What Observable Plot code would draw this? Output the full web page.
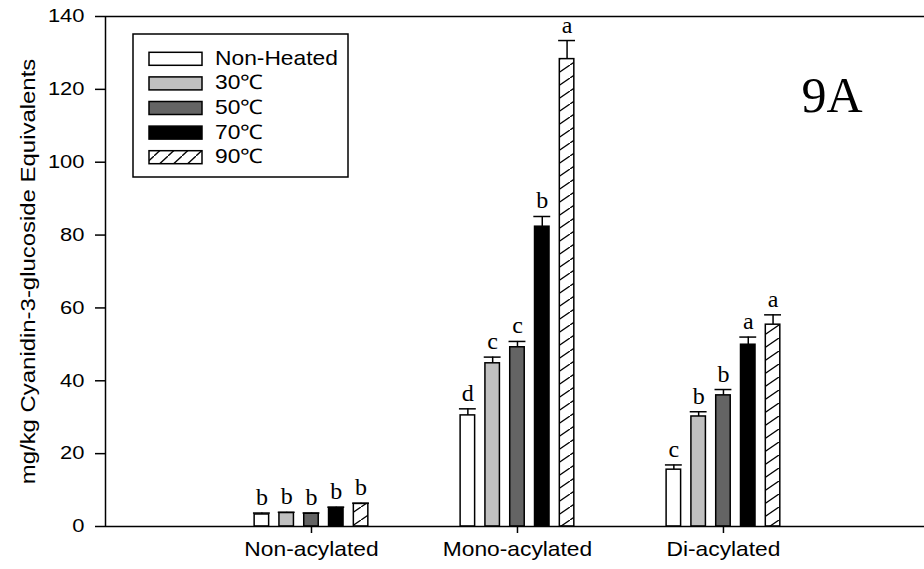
<!DOCTYPE html>
<html>
<head>
<meta charset="utf-8">
<script src="https://cdn.jsdelivr.net/npm/d3@7"></script>
<script src="https://cdn.jsdelivr.net/npm/@observablehq/plot@0.6"></script>
<style>
  body { margin: 0; background: #fff; }
</style>
</head>
<body>
<div id="chart"></div>
<script>
// ---------- data ----------
const categories = ["Non-acylated", "Mono-acylated", "Di-acylated"];
const treatments = ["Non-Heated", "30℃", "50℃", "70℃", "90℃"];
const yTicks = [0, 20, 40, 60, 80, 100, 120, 140];
const yLabel = "mg/kg Cyanidin-3-glucoside Equivalents";
const panelLabel = "9A";

// means per treatment, in category order
const valNH = [3.3, 30.5, 15.6];
const val30 = [3.7, 44.8, 30.2];
const val50 = [3.5, 49.2, 36.0];
const val70 = [5.1, 82.3, 49.9];
const val90 = [6.2, 128.3, 55.4];

// standard errors
const errNH = [0.4, 1.8, 1.3];
const err30 = [0.2, 1.7, 1.3];
const err50 = [0.2, 1.6, 1.6];
const err70 = [0.2, 2.8, 2.1];
const err90 = [0.2, 5.1, 2.7];

// significance letters
const letNH = ["b", "d", "c"];
const let30 = ["b", "c", "b"];
const let50 = ["b", "c", "b"];
const let70 = ["b", "b", "a"];
const let90 = ["b", "a", "a"];

// ---------- build table ----------
const vals = [valNH, val30, val50, val70, val90];
const errs = [errNH, err30, err50, err70, err90];
const lets = [letNH, let30, let50, let70, let90];
const fills = ["white", "#c0c0c0", "#646464", "black", "url(#hatch90)"];
const legendFills = ["white", "#c0c0c0", "#646464", "black", "url(#hatchLeg)"];

const STEP = 0.1204;   // bar spacing in category units
const HALF = 0.0352;   // half bar width
const CAP = 0.041;     // half cap width

const rows = [];
categories.forEach((c, g) => {
  treatments.forEach((t, s) => {
    rows.push({
      cat: c, s, value: vals[s][g], err: errs[s][g], letter: lets[s][g],
      center: g + 1 + (s - 2) * STEP
    });
  });
});

// ---------- legend + pattern defs as a render mark ----------
function legendMark(index, scales, values, dims) {
  const g = d3.create("svg:g");
  const defs = g.append("defs");
  const mkPattern = (id, w, h) => {
    const p = defs.append("pattern").attr("id", id)
      .attr("patternUnits", "userSpaceOnUse").attr("width", w).attr("height", h);
    p.append("rect").attr("width", w).attr("height", h).attr("fill", "white");
    p.append("path")
      .attr("d", `M${-0.15 * w},${1.15 * h}L${1.15 * w},${-0.15 * h}`)
      .attr("stroke", "black").attr("stroke-width", 1.3);
  };
  mkPattern("hatch90", 19, 13);
  mkPattern("hatchLeg", 14, 13);

  const m = dims || {marginLeft: 105, marginTop: 16};
  const x0 = m.marginLeft + 28, y0 = m.marginTop + 18;
  g.append("rect").attr("x", x0).attr("y", y0).attr("width", 215).attr("height", 143)
    .attr("fill", "white").attr("stroke", "black").attr("stroke-width", 1.5);
  treatments.forEach((t, s) => {
    const ry = y0 + 18.3 + s * 24.6;
    g.append("rect").attr("x", x0 + 16).attr("y", ry).attr("width", 53).attr("height", 13)
      .attr("fill", legendFills[s]).attr("stroke", "black").attr("stroke-width", 1.5);
    g.append("text").attr("transform", `translate(${x0 + 82},${ry + 12.5})`)
      .attr("text-anchor", "start").attr("font-size", 20).attr("fill", "black")
      .text(t);
  });
  return g.node();
}

const barMarks = treatments.map((t, s) =>
  Plot.rect(rows.filter(r => r.s === s), {
    x1: d => d.center - HALF, x2: d => d.center + HALF,
    y1: 0, y2: "value",
    fill: fills[s], stroke: "black", strokeWidth: 1.5
  })
);

const plot = Plot.plot({
  width: 924,
  height: 569,
  marginLeft: 105,
  marginRight: 0,
  marginTop: 16,
  marginBottom: 43,
  style: {fontFamily: "'Liberation Sans', Arial, sans-serif", background: "white", color: "black"},
  x: {domain: [0, 3.976], axis: null},
  y: {domain: [0, 140], axis: null},
  marks: [
    Plot.ruleX(rows, {x: "center", y1: "value", y2: d => d.value + d.err, strokeWidth: 1.5}),
    Plot.ruleY(rows, {y: d => d.value + d.err, x1: d => d.center - CAP, x2: d => d.center + CAP, strokeWidth: 1.5}),
    ...barMarks,
    Plot.text(rows, {
      x: "center", y: d => d.value + d.err, text: "letter",
      lineAnchor: "bottom", dy: -8, fontFamily: "Liberation Serif", fontSize: 24, fill: "black"
    }),
    Plot.ruleY([0, 140], {strokeWidth: 1.5}),
    Plot.ruleX([0], {strokeWidth: 1.5}),
    Plot.axisY({ticks: yTicks, tickSize: 10, tickPadding: 11, fontSize: 18, label: null, strokeWidth: 1.5}),
    Plot.axisX({ticks: [1, 2, 3], tickFormat: i => categories[i - 1], tickSize: 7, tickPadding: 8, fontSize: 20, label: null, strokeWidth: 1.5}),
    Plot.text([yLabel], {frameAnchor: "left", rotate: -90, dx: -77, fontSize: 21, text: d => d, textAnchor: "middle", lineAnchor: "middle", fill: "black"}),
    Plot.text([panelLabel], {
      frameAnchor: "top-right", textAnchor: "end", lineAnchor: "bottom",
      dx: -62, dy: 95, fontFamily: "Liberation Serif", fontSize: 50, text: d => d, fill: "black"
    }),
    legendMark
  ]
});

// stretch sans-serif text horizontally to match the reference's wide glyphs
plot.querySelectorAll("text").forEach(t => {
  const holder = t.closest("[font-family]");
  const fam = holder ? holder.getAttribute("font-family") : "";
  if (/Serif/.test(fam)) return;
  const yTick = t.closest('[aria-label="y-axis tick label"]');
  const k = yTick ? 1.22 : 1.14;
  const tr = t.getAttribute("transform") || "";
  t.setAttribute("transform", tr + ` scale(${k},1)`);
});

document.getElementById("chart").appendChild(plot);
</script>
</body>
</html>
